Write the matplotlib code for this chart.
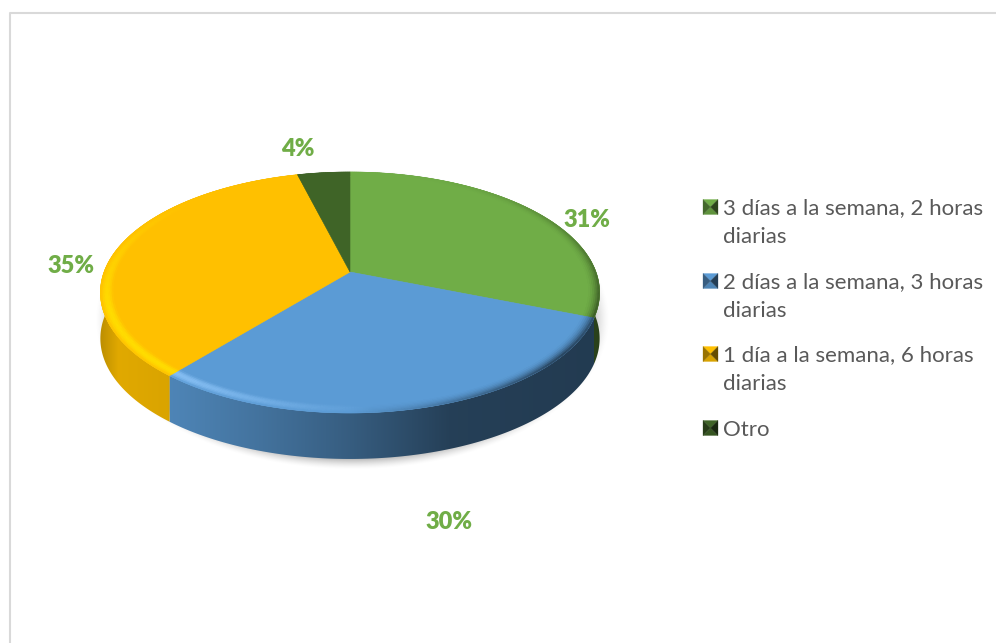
#!/usr/bin/env python3
"""Pie 3D style: study schedule shares, drawn in pixel coords with a perspective disc."""
import matplotlib
matplotlib.use("Agg")
import matplotlib.pyplot as plt
from matplotlib.collections import PolyCollection
from matplotlib.colors import to_rgb
from matplotlib.patches import Polygon
import numpy as np

labels = ["3 días a la semana, 2 horas\ndiarias", "2 días a la semana, 3 horas\ndiarias",
          "1 día a la semana, 6 horas\ndiarias", "Otro"]
values = [31, 30, 35, 4]
pct_labels = ["31%", "30%", "35%", "4%"]

COLORS = ["#70ad47", "#5b9bd5", "#ffc000", "#3f6427"]
GLOWS = ["#a0d070", "#8cc4f8", "#ffde00", "#5f8a40"]
LABEL_POS = [(587, 220), (449, 522), (71, 266), (298, 149)]
LEGEND_Y = [207, 281, 354, 428]
INK = "#595959"
GREEN = "#70ad47"
FRAME = "#d9d9d9"
W, H = 996, 643
DEPTH = 46

plt.rcParams["font.family"] = ["Lato", "DejaVu Sans"]


def project(r, th, dy=0.0):
    # th clockwise from 12 o'clock; perspective so the centre sits above the ellipse middle
    u, v = r * np.sin(th), r * np.cos(th)
    w = 1 + 0.17 * v
    return 350 + 246 * u / w, 272 - 117 * v / w + dy


def blend(c, other, t):
    c, other = np.array(c), np.array(other)
    return tuple(c + (other - c) * np.clip(t, 0, 1))


fig = plt.figure(figsize=(W / 100, H / 100), dpi=100)
ax = fig.add_axes([0, 0, 1, 1])

# frame, only top and left show
ax.plot([W, 10, 10], [13, 13, H], color=FRAME, lw=1.5, zorder=1)

# soft shadow
yy, xx = np.mgrid[0:H, 0:W]
dist = np.hypot((xx - 352) / 257, (yy - 319) / 150)
shadow = np.zeros((H, W, 4))
shadow[..., :3] = 0.74
shadow[..., 3] = np.clip((1 - dist) / 0.07, 0, 1) ** 1.5
ax.imshow(shadow, extent=(0, W, H, 0), zorder=2, aspect="auto", interpolation="bilinear")

edges = np.cumsum([0] + values) / sum(values) * 2 * np.pi

# side wall: horizontal gradient clipped to each slice's outline
xs = np.arange(W)
wall_shade = np.interp(xs, [100, 118, 176, 260, 350, 450, 600], [.74, .88, .85, .74, .60, .41, .38])
for i, col in enumerate(COLORS):
    ths = np.linspace(edges[i], edges[i + 1], 200)
    px, py = project(1, ths)
    outline = list(zip(px, py)) + list(zip(px[::-1], py[::-1] + DEPTH))
    clip = Polygon(outline, closed=True, facecolor="none", edgecolor="none", transform=ax.transData)
    ax.add_patch(clip)
    grad = np.array(to_rgb(col))[None, None, :] * wall_shade[None, :, None]
    im = ax.imshow(grad, extent=(0, W, H, 0), zorder=3, aspect="auto", interpolation="bilinear")
    im.set_clip_path(clip)

# top of each slice
for i, col in enumerate(COLORS):
    ths = np.linspace(edges[i], edges[i + 1], 200)
    px, py = project(1, ths)
    pts = [(350, 272)] + list(zip(px, py))
    ax.add_patch(Polygon(pts, closed=True, facecolor=col, edgecolor=col, lw=0.4, zorder=4))

# bevel band round the rim: bright on the left/front, dark on the right
rings = np.linspace(0.95, 1.0, 8)
quads, cols = [], []
for i, col in enumerate(COLORS):
    base = to_rgb(col)
    glow_col = to_rgb(GLOWS[i])
    ths = np.linspace(edges[i], edges[i + 1], max(int((edges[i + 1] - edges[i]) * 100), 2))
    for a, b in zip(ths[:-1], ths[1:]):
        m = (a + b) / 2
        u, v = np.sin(m), np.cos(m)
        for r0, r1 in zip(rings[:-1], rings[1:]):
            t = ((r0 + r1) / 2 - rings[0]) / (rings[-1] - rings[0])
            glow = np.clip(-u * 1.3 + 0.1, 0, 1) * np.clip(0.7 - v, 0, 1) * np.sin(np.pi * t)
            dark = np.clip(u * 1.3, 0, 1) * t ** 2 * 0.65 * np.clip(0.6 - v * 0.6, 0, 1)
            c = blend(base, glow_col, glow)
            c = blend(c, (0, 0, 0), dark)
            xa0, ya0 = project(r0, a)
            xb0, yb0 = project(r0, b)
            xa1, ya1 = project(r1, a)
            xb1, yb1 = project(r1, b)
            quads.append([(xa0, ya0), (xb0, yb0), (xb1, yb1), (xa1, ya1)])
            cols.append(c)
ax.add_collection(PolyCollection(quads, facecolors=cols, edgecolors=cols, linewidths=0.3, zorder=5))

# percentage labels
for txt, (x, y) in zip(pct_labels, LABEL_POS):
    ax.text(x, y, txt, color=GREEN, fontsize=17, fontweight="heavy", ha="center", va="center", zorder=6)

# legend with the little pyramid swatches
for lab, col, y in zip(labels, COLORS, LEGEND_Y):
    base = np.array(to_rgb(col))
    x0, x1, y0, y1 = 703, 718, y - 7.5, y + 7.5
    mx, my = (x0 + x1) / 2, (y0 + y1) / 2
    tris = [[(x0, y0), (x1, y0), (mx, my)], [(x0, y1), (x1, y1), (mx, my)],
            [(x0, y0), (x0, y1), (mx, my)], [(x1, y0), (x1, y1), (mx, my)]]
    shades = [tuple(base), tuple(base * 0.85), tuple(base * 0.6), tuple(base * 0.4)]
    for tri, sh in zip(tris, shades):
        ax.add_patch(Polygon(tri, closed=True, facecolor=sh, edgecolor=sh, lw=0.2, zorder=6))
    ax.text(723, y - 8.5, lab, color=INK, fontsize=16, ha="left", va="top",
            linespacing=1.55, zorder=6)

ax.set_xlim(0, W)
ax.set_ylim(H, 0)
ax.axis("off")
fig.savefig("out.png", dpi=100)
